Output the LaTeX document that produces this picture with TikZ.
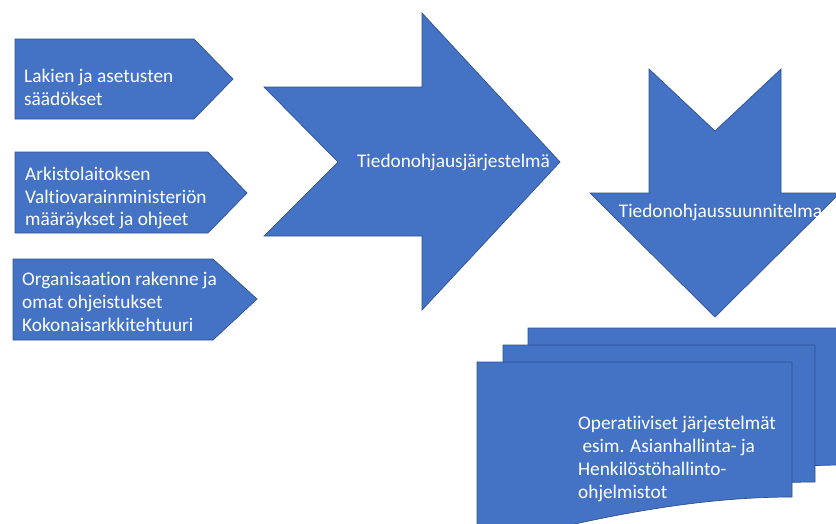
\documentclass[tikz,border=0pt]{standalone}
\usepackage{fontspec}
\setmainfont{Carlito}[RawFeature={-liga}]
\definecolor{pptblue}{HTML}{4472C4}
\definecolor{pptedge}{HTML}{2F528F}
\begin{document}
\begin{tikzpicture}[x=1pt,y=-1pt,
  shapefill/.style={fill=pptblue,draw=pptedge,line width=0.7pt,line join=miter},
  lbl/.style={text=white,font=\fontsize{19.3}{22.8}\selectfont,inner sep=0pt,align=left}]
\useasboundingbox (0,0) rectangle (836,523);
\begin{scope}
\clip (0,0) rectangle (836,523);
% pentagons
\path[shapefill] (15,39) -- (194,39) -- (233,79) -- (194,119) -- (15,119) -- cycle;
\path[shapefill] (15,152) -- (208,152) -- (247,193) -- (208,233) -- (15,233) -- cycle;
\path[shapefill] (13,259) -- (213,259) -- (257,299) -- (213,340) -- (13,340) -- cycle;
% big right arrow (notched)
\path[shapefill] (264,87) -- (422,87) -- (422,13) -- (560,162) -- (422,310) -- (422,236) -- (264,236) -- (338,162) -- cycle;
% down arrow (notched)
\path[shapefill] (649,69) -- (715,131) -- (781,69) -- (781,193) -- (840,193) -- (715,317) -- (590,193) -- (649,193) -- cycle;
% multidocument
\path[shapefill] (528,328) -- (845,328) -- (845,465) .. controls (750,465) and (650,483) .. (528,516) -- cycle;
\path[shapefill] (503,345) -- (815,345) -- (815,482) .. controls (723,482) and (623,500) .. (503,533) -- cycle;
\path[shapefill] (477,362) -- (792,362) -- (792,497) .. controls (700,497) and (600,515) .. (477,548) -- cycle;
\end{scope}
% labels
\node[lbl,anchor=west] (l1) at (24,87) {Lakien ja asetusten\\säädökset};
\node[lbl,anchor=west] (l2) at (25,198) {Arkistolaitoksen\\Valtiovarainministeriön\\määräykset ja ohjeet};
\node[lbl,anchor=west] (l3) at (22,302) {Organisaation rakenne ja\\omat ohjeistukset\\Kokonaisarkkitehtuuri};
\node[lbl] (main) at (453.5,162) {Tiedonohjausjärjestelmä};
\node[lbl] (plan) at (720.5,212) {Tiedonohjaussuunnitelma};
\node[lbl,anchor=west] (ops) at (578,459) {Operatiiviset järjestelmät\\\ esim. Asianhallinta- ja\\Henkilöstöhallinto-\\ohjelmistot};
\end{tikzpicture}
\end{document}
